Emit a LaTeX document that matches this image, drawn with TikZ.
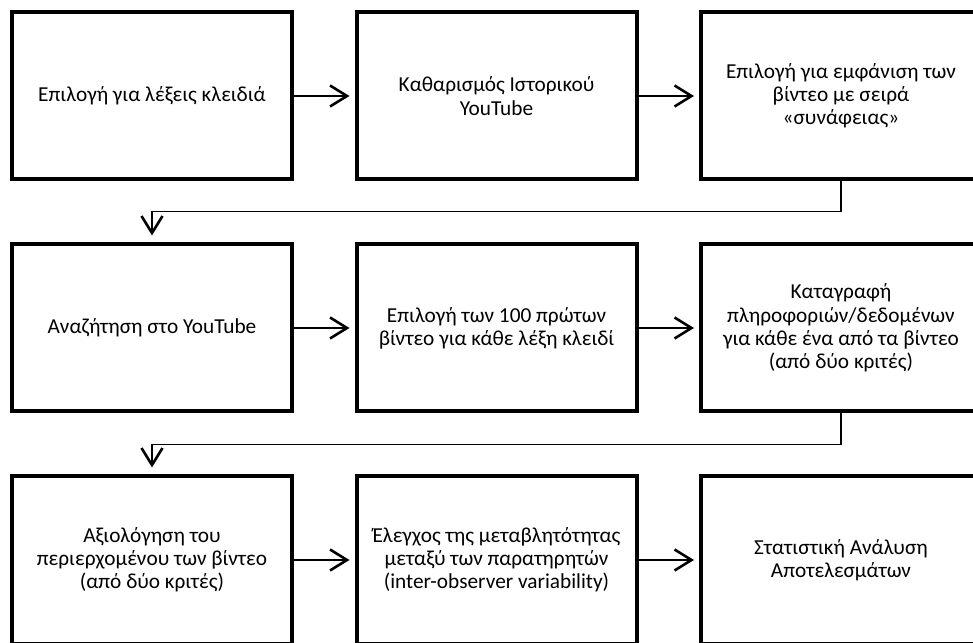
\documentclass[tikz,border=0pt]{standalone}
\usepackage{fontspec}
\setmainfont{Carlito}
\usetikzlibrary{positioning,arrows.meta}

\tikzset{
  stepbox/.style={draw, line width=4pt, minimum width=280pt, minimum height=167pt,
    inner sep=4pt, align=center, font=\fontsize{21.3}{23.2}\selectfont},
  flow/.style={line width=2pt, shorten >=5pt,
    -{Straight Barb[length=17pt,width=21pt,line width=2.6pt]}},
  elbow/.style={flow, line width=1.6pt, shorten >=7pt}
}

\begin{document}
\begin{tikzpicture}[x=1pt, y=1pt, node distance=61pt and 60.5pt]
  \useasboundingbox (0,0) rectangle (973,642);
  \clip (0,0) rectangle (973,642);

  % first row
  \node[stepbox] (keys) at (152,546) {Επιλογή για λέξεις κλειδιά};
  \node[stepbox, right=of keys] (clear) {Καθαρισμός Ιστορικού\\YouTube};
  \node[stepbox, right=of clear] (order) {Επιλογή για εμφάνιση των\\βίντεο με σειρά\\«συνάφειας»};

  % second row
  \node[stepbox, below=of keys] (search) {Αναζήτηση στο YouTube};
  \node[stepbox, right=of search] (first) {Επιλογή των 100 πρώτων\\βίντεο για κάθε λέξη κλειδί};
  \node[stepbox, right=of first] (record) {Καταγραφή\\πληροφοριών/δεδομένων\\για κάθε ένα από τα βίντεο\\(από δύο κριτές)};

  % third row
  \node[stepbox, below=of search] (rate) {Αξιολόγηση του\\περιερχομένου των βίντεο\\(από δύο κριτές)};
  \node[stepbox, right=of rate] (vary) {Έλεγχος της μεταβλητότητας\\μεταξύ των παρατηρητών\\(inter-observer variability)};
  \node[stepbox, right=of vary] (stats) {Στατιστική Ανάλυση\\Αποτελεσμάτων};

  \draw[flow] (keys) -- (clear);
  \draw[flow] (clear) -- (order);
  \draw[elbow] (order.south) -- ++(0,-30) -| (search.north);
  \draw[flow] (search) -- (first);
  \draw[flow] (first) -- (record);
  \draw[elbow] (record.south) -- ++(0,-31) -| (rate.north);
  \draw[flow] (rate) -- (vary);
  \draw[flow] (vary) -- (stats);
\end{tikzpicture}
\end{document}
